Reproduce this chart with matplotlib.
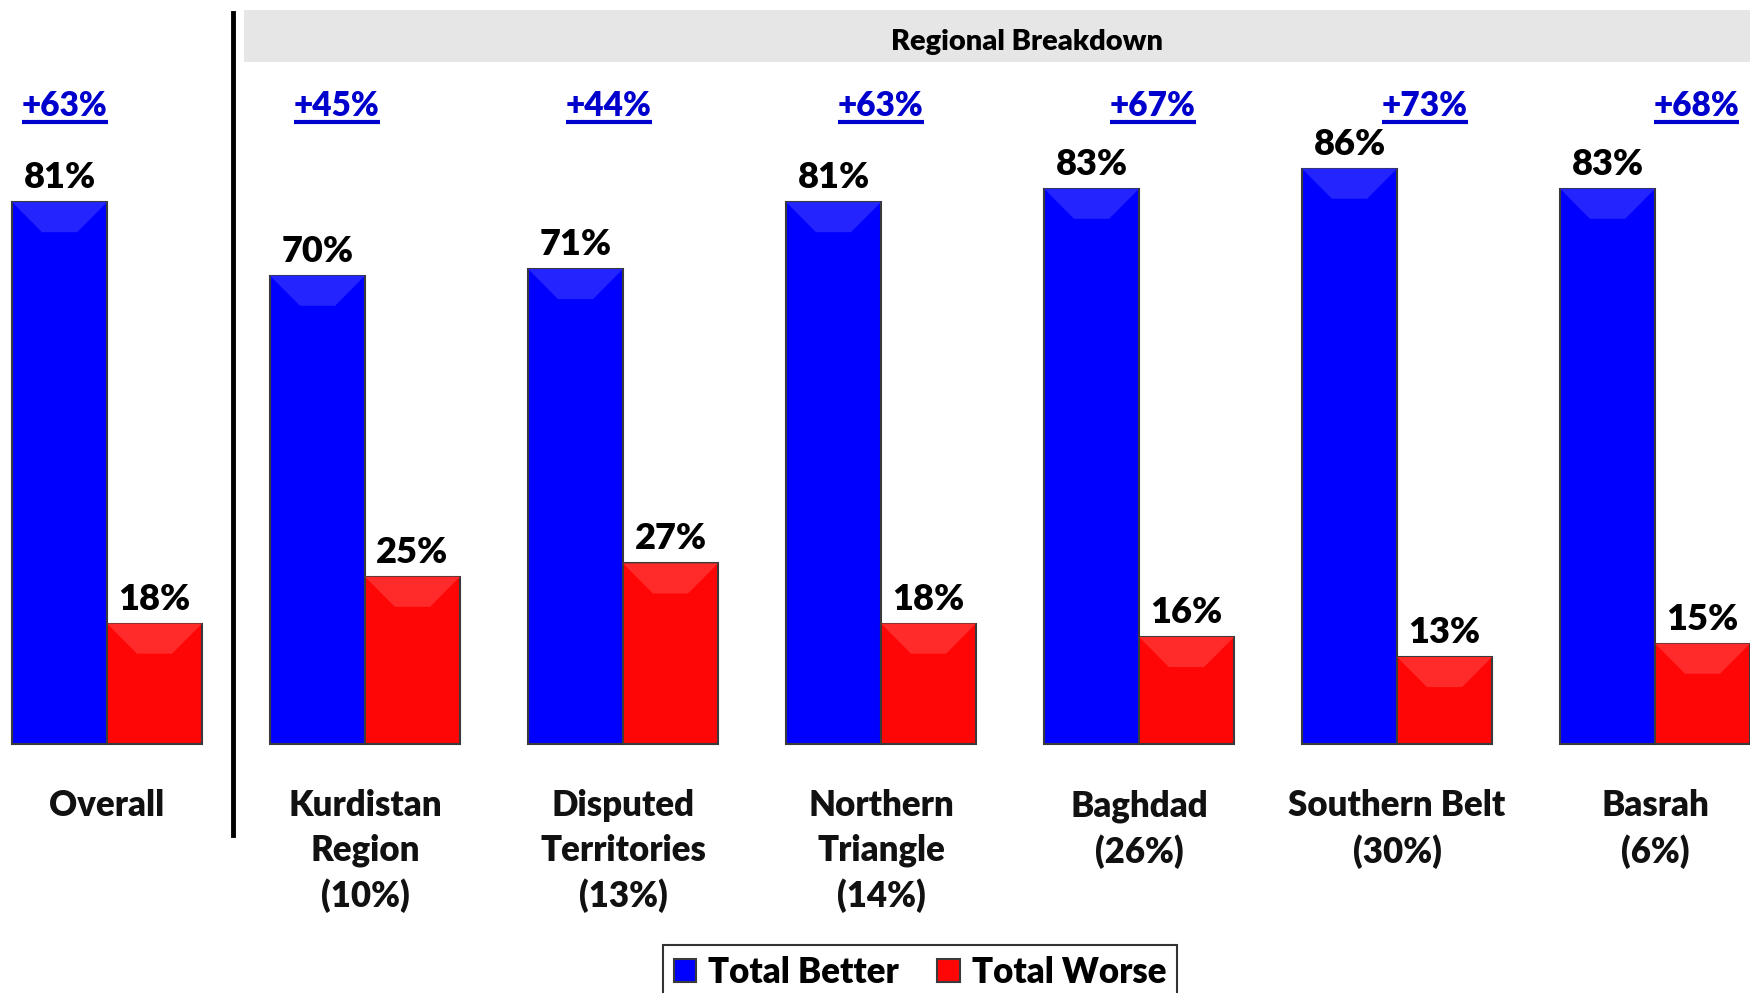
import matplotlib.pyplot as plt
from matplotlib.patches import Rectangle, Polygon
from matplotlib.lines import Line2D

plt.rcParams['font.family'] = ['Lato', 'DejaVu Sans']

# data
categories = ['Overall', 'Kurdistan\nRegion\n(10%)', 'Disputed\nTerritories\n(13%)',
              'Northern\nTriangle\n(14%)', 'Baghdad\n(26%)', 'Southern Belt\n(30%)',
              'Basrah\n(6%)']
better = [81, 70, 71, 81, 83, 86, 83]
worse = [18, 25, 27, 18, 16, 13, 15]
net = ['+63%', '+45%', '+44%', '+63%', '+67%', '+73%', '+68%']

blue = '#0000FF'
red = '#FF0606'
w = 0.368
wt = 'heavy'

fig = plt.figure(figsize=(17.5, 9.93), dpi=100)
ax = fig.add_axes([0, 0, 1, 1])
ax.set_xlim(-0.4147, 6.368)
ax.set_ylim(-37.22, 111.21)
ax.axis('off')

x = list(range(len(categories)))
b1 = ax.bar([i - w / 2 for i in x], better, w, color=blue, edgecolor='#3a3a3a', linewidth=1.5, zorder=2)
b2 = ax.bar([i + w / 2 for i in x], worse, w, color=red, edgecolor='#3a3a3a', linewidth=1.5, zorder=2)

# subtle bevel on the bar tops
for bars, light in [(b1, '#2424FF'), (b2, '#FF2a2a')]:
    for r in bars:
        x0, h, bw = r.get_x(), r.get_height(), r.get_width()
        dx, dy = 0.116, 4.5
        ax.add_patch(Polygon([(x0, h), (x0 + bw, h), (x0 + bw - dx, h - dy), (x0 + dx, h - dy)],
                             closed=True, facecolor=light, edgecolor='none', zorder=3))

for i in x:
    ax.text(i - w / 2, better[i] + 2.1, f'{better[i]}%', ha='center', va='baseline',
            fontsize=26, fontweight=wt)
    ax.text(i + w / 2, worse[i] + 2.1, f'{worse[i]}%', ha='center', va='baseline',
            fontsize=26, fontweight=wt)
    ax.text(i, -6.8, categories[i], ha='center', va='top', fontsize=25,
            fontweight=wt, color='#111111', linespacing=1.41)

# net labels, underlined
net_texts = []
for i in x:
    t = ax.text(-0.163 + 1.054 * i, 95.4, net[i], ha='center', va='center',
                fontsize=24, fontweight=wt, color='#0000CC')
    net_texts.append(t)

fig.canvas.draw()
inv = ax.transData.inverted()
for t in net_texts:
    bb = t.get_window_extent()
    (xa, _), (xb, _) = inv.transform([(bb.x0, 0), (bb.x1, 0)])
    ax.add_line(Line2D([xa, xb], [92.9, 92.9], color='#0000CC', linewidth=3, solid_capstyle='butt'))

# divider and header band
ax.plot([0.488, 0.488], [109.3, -13.6], color='black', linewidth=3.5)
ax.add_patch(Rectangle((0.531, 101.9), 6.368 - 0.531, 7.8, facecolor='#E6E6E6', edgecolor='none'))
ax.text(3.566, 105.0, 'Regional Breakdown', ha='center', va='center', fontsize=21, fontweight=wt)

leg = fig.legend([b1, b2], ['Total Better', 'Total Worse'], loc='upper center',
                 bbox_to_anchor=(920 / 1750, 1 - 928 / 993), ncol=2,
                 frameon=True, fancybox=False, edgecolor='black', handlelength=0.65,
                 handleheight=0.65, handletextpad=0.35, columnspacing=1.1,
                 borderpad=0.3, prop={'weight': wt, 'size': 25})
leg.get_frame().set_linewidth(1.5)

fig.savefig('out.png', dpi=100)
